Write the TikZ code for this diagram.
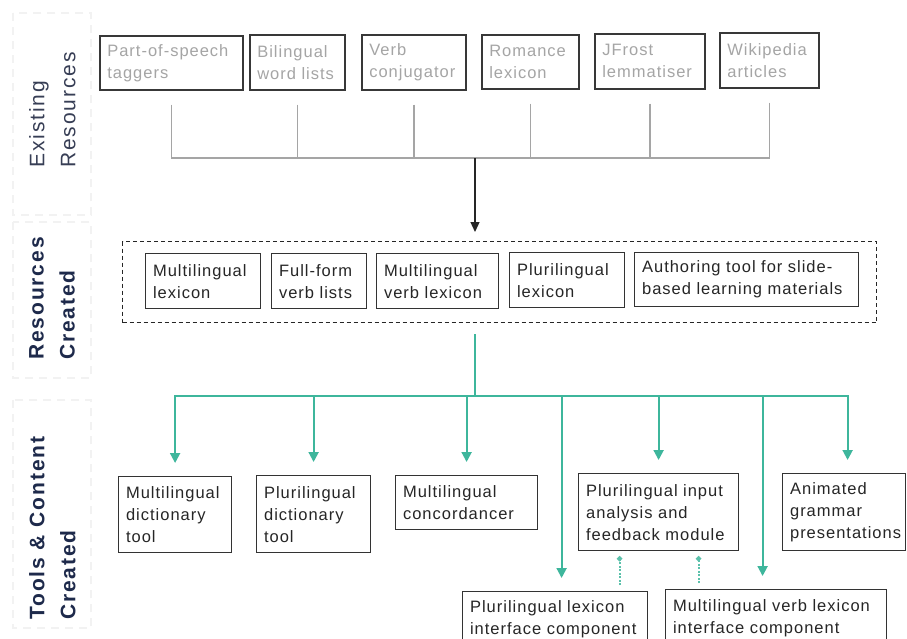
\documentclass[tikz,border=0pt]{standalone}
\usepackage{fontspec}
\setmainfont{Liberation Sans}
\newfontfamily\boxfont[LetterSpace=6]{Liberation Sans}
\newfontfamily\lblfont[LetterSpace=9]{Liberation Sans}
\usetikzlibrary{arrows.meta}

\definecolor{tealline}{RGB}{62,182,156}
\definecolor{navy}{RGB}{30,42,75}
\definecolor{navysoft}{RGB}{55,62,85}
\definecolor{srcgrey}{RGB}{165,165,165}

\newcommand\bxtext{\boxfont\fontsize{16.5}{22}\selectfont\hyphenpenalty=10000\exhyphenpenalty=10000\relax}
\newcommand\lbltext{\lblfont\fontsize{21}{31}\selectfont}

\tikzset{
  box/.style={draw=black!80, line width=1.2pt, anchor=north west,
    inner xsep=7.5pt, inner ysep=0pt, align=left, font=\bxtext, text=black!85},
  srcbox/.style={box, draw=black!78, line width=1.7pt, text=srcgrey},
  container/.style={draw=black!85, line width=1.4pt, dash pattern=on 4pt off 3pt,
    anchor=north west, inner sep=0pt},
  srcline/.style={draw=srcgrey, line width=1.5pt, shorten <=14pt},
  blkarrow/.style={draw=black!85, line width=1.2pt, shorten >=9pt,
    -{Triangle[width=9pt,length=10pt]}},
  trunk/.style={draw=tealline, line width=2pt, shorten <=11pt},
  tealarrow/.style={draw=tealline, line width=2pt, shorten >=13pt,
    -{Triangle[width=10pt,length=10pt]}},
  dotarrow/.style={draw=tealline!85, line width=2pt, dash pattern=on 2pt off 1.5pt,
    shorten <=6pt, shorten >=5pt, -{Circle[length=5pt]}},
  faint/.style={draw=black!5, line width=1.5pt, dash pattern=on 8pt off 6pt},
  lbl/.style={rotate=90, anchor=north west, align=left, inner sep=0pt, font=\lbltext},
}

\begin{document}
\begin{tikzpicture}[x=1pt, y=-1pt]
\useasboundingbox (0,0) rectangle (907,638);
\clip (0,0) rectangle (907,638);
\fill[white] (0,0) rectangle (907,638);

% section labels in the left column
\draw[faint] (13,13) rectangle (91,215);
\draw[faint] (13,222) rectangle (91,378);
\draw[faint] (13,400) rectangle (91,628);
\node[lbl, text=navysoft] (labA) at (29,168) {Existing\\Resources};
\node[lbl, text=navy, font=\lbltext\bfseries] (labB) at (29,360) {Resources\\Created};
\node[lbl, text=navy, font=\lbltext\bfseries] (labC) at (29,620) {Tools \& Content\\Created};

% existing resources
\node[srcbox, text width=128pt, minimum height=54pt] (t1) at (99,35) {Part-of-speech\\taggers};
\node[srcbox, text width=80pt, minimum height=55pt] (t2) at (249,34) {Bilingual\\word lists};
\node[srcbox, text width=89pt, minimum height=55pt] (t3) at (361,34) {Verb\\conjugator};
\node[srcbox, text width=82pt, minimum height=54pt] (t4) at (481,34) {Romance\\lexicon};
\node[srcbox, text width=95pt, minimum height=55pt] (t5) at (594,33) {JFrost\\lemmatiser};
\node[srcbox, text width=84pt, minimum height=55pt] (t6) at (719,32) {Wikipedia\\articles};

% resources created
\node[container, minimum width=754pt, minimum height=81pt] (rc) at (122,241) {};
\node[box, text width=100pt, minimum height=55pt] (r1) at (145,253) {Multilingual\\lexicon};
\node[box, text width=80pt, minimum height=55pt] (r2) at (271,253) {Full-form\\verb lists};
\node[box, text width=107pt, minimum height=55pt] (r3) at (376,253) {Multilingual\\verb lexicon};
\node[box, text width=100pt, minimum height=55pt] (r4) at (509,252) {Plurilingual\\lexicon};
\node[box, text width=209pt, minimum height=54pt] (r5) at (634,252) {Authoring tool for slide-\\based learning materials};

% tools and content created
\node[box, text width=98pt, minimum height=76pt] (m1) at (118,476) {Multilingual\\dictionary\\tool};
\node[box, text width=99pt, minimum height=77pt] (m2) at (256,475) {Plurilingual\\dictionary\\tool};
\node[box, text width=127pt, minimum height=54pt] (m3) at (395,475) {Multilingual\\concordancer};
\node[box, text width=145pt, minimum height=77pt] (m4) at (578,473) {Plurilingual input\\analysis and\\feedback module};
\node[box, text width=108pt, minimum height=77pt] (m5) at (782,473) {Animated\\grammar\\presentations};
\node[box, text width=170pt, minimum height=55pt] (l1) at (462,591) {Plurilingual lexicon\\interface component};
\node[box, text width=206pt, minimum height=57pt] (l2) at (665,589) {Multilingual verb lexicon\\interface component};

% bus lines
\coordinate (tbus) at (475,158);
\coordinate (bbus) at (475,396);
\foreach \n in {t1,t2,t3,t4,t5,t6}
  \draw[srcline] (\n.south) |- (tbus);
\draw[blkarrow] (tbus) -- (tbus |- rc.north);
\draw[trunk] (tbus |- rc.south) -- (bbus);

\draw[tealarrow] (bbus) -| (m1.north);
\draw[tealarrow] (bbus) -| (m2.north);
\draw[tealarrow] (bbus) -| (m3.north);
\draw[tealarrow] (bbus) -| (m4.north);
\draw[tealarrow] (bbus) -| ([xshift=3.5pt]m5.north);
\draw[tealarrow] (bbus) -| ([xshift=6.5pt]l1.north);
\draw[tealarrow] (bbus) -| ([xshift=-13.5pt]l2.north);

% interface components feeding the feedback module
\coordinate (d1) at ([xshift=64.5pt]l1.north);
\coordinate (d2) at ([xshift=-77.5pt]l2.north);
\draw[dotarrow] (d1) -- (d1 |- m4.south);
\draw[dotarrow] (d2) -- (d2 |- m4.south);
\end{tikzpicture}
\end{document}
